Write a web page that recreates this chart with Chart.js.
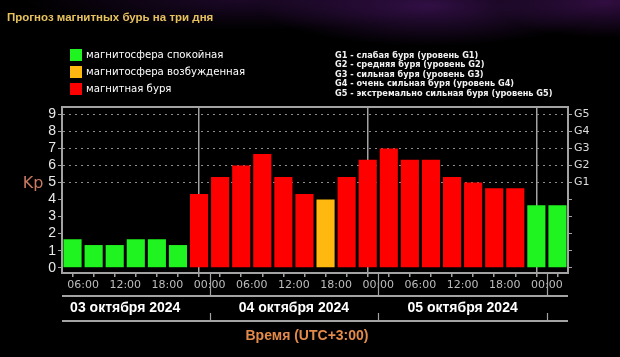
<!DOCTYPE html>
<html><head><meta charset="utf-8">
<script src="https://cdn.jsdelivr.net/npm/chart.js@4.4.1/dist/chart.umd.min.js"></script>
<style>
html,body{margin:0;padding:0;width:620px;height:357px;overflow:hidden;background:#000;}
#wrap{position:relative;width:620px;height:357px;background:
 radial-gradient(ellipse 170px 40px at 430px 6px, rgba(80,24,112,0.6), rgba(0,0,0,0) 100%),
 radial-gradient(ellipse 110px 36px at 605px 2px, rgba(90,24,120,0.55), rgba(0,0,0,0) 100%),
 radial-gradient(ellipse 220px 30px at 240px 0px, rgba(55,16,78,0.5), rgba(0,0,0,0) 100%),
 #000;}
#c{position:absolute;left:0;top:0;width:620px;height:357px;}
.t{position:absolute;white-space:nowrap;font-family:"Liberation Sans",Arial,sans-serif;z-index:2;}
#title{left:7px;top:11px;font-size:11.5px;font-weight:bold;color:#e6c25e;}
.lg{left:70px;font-family:"DejaVu Sans Condensed","DejaVu Sans",sans-serif;font-size:11.3px;color:#fff;line-height:12px;}
.lg i{display:inline-block;width:12px;height:12px;vertical-align:top;margin-right:4px;}
.gl{left:335px;font-family:"DejaVu Sans Condensed","DejaVu Sans",sans-serif;font-size:9.1px;font-weight:bold;color:#f2f2f2;line-height:10px;}
</style></head><body>
<div id="wrap">
<canvas id="c" width="620" height="357"></canvas>
<div class="t" id="title">Прогноз магнитных бурь на три дня</div>
<div id="legend"></div>
<div id="glegend"></div>
</div>
<script>
// ---- data ----
const boundaryLabels = ['', '06:00', '', '12:00', '', '18:00', '', '00:00',
                        '', '06:00', '', '12:00', '', '18:00', '', '00:00',
                        '', '06:00', '', '12:00', '', '18:00', '', '00:00', ''];
const kpValues = [1.67, 1.33, 1.33, 1.67, 1.67, 1.33, 4.33,
                  5.33, 6.0, 6.67, 5.33, 4.33, 4.0, 5.33, 6.33,
                  7.0, 6.33, 6.33, 5.33, 5.0, 4.67, 4.67, 3.67,
                  3.67];
const kpLevels = ['quiet','quiet','quiet','quiet','quiet','quiet','storm',
                  'storm','storm','storm','storm','storm','active','storm','storm',
                  'storm','storm','storm','storm','storm','storm','storm','quiet',
                  'quiet'];
const levelNames = ['quiet','active','storm'];
const levelColors = ['#20f420','#ffb80f','#ff0000'];
const legendLabels = ['магнитосфера спокойная','магнитосфера возбужденная','магнитная буря'];
const kpTickLabels = ['0','1','2','3','4','5','6','7','8','9'];
const gTickLabels = ['','','','','','G1','G2','G3','G4','G5'];
const gLegend = ['G1 - слабая буря (уровень G1)','G2 - средняя буря (уровень G2)','G3 - сильная буря (уровень G3)','G4 - очень сильная буря (уровень G4)','G5 - экстремально сильная буря (уровень G5)'];
const dayLabels = ['03 октября 2024','04 октября 2024','05 октября 2024'];
const dayBoundaries = [7, 15, 23];
const axisTitleX = 'Время (UTC+3:00)';
const axisTitleY = 'Kp';

// ---- html legends ----
const lg = document.getElementById('legend');
legendLabels.forEach((t,i)=>{
  const d=document.createElement('div'); d.className='t lg'; d.style.top=(49+i*17)+'px';
  d.innerHTML='<i style="background:'+levelColors[i]+'"></i>'; d.appendChild(document.createTextNode(t)); lg.appendChild(d);
});
const gl = document.getElementById('glegend');
gLegend.forEach((t,i)=>{
  const d=document.createElement('div'); d.className='t gl'; d.style.top=(50+i*9.4)+'px'; d.textContent=t; gl.appendChild(d);
});

const GRAY='#a3a3a3';
const colorOf = lv => levelColors[levelNames.indexOf(lv)];

const deco = {
  id:'deco',
  afterDraw(chart){
    const {ctx, chartArea:a, scales:{x}} = chart;
    ctx.save();
    ctx.strokeStyle=GRAY; ctx.lineWidth=2;
    ctx.beginPath(); ctx.moveTo(a.left-1,a.top); ctx.lineTo(a.right+1,a.top); ctx.stroke();
    ctx.beginPath(); ctx.moveTo(a.left,296); ctx.lineTo(a.right,296); ctx.stroke();
    ctx.beginPath(); ctx.moveTo(a.left,321); ctx.lineTo(a.right,321); ctx.stroke();
    ctx.lineWidth=1.2;
    dayBoundaries.forEach(b=>{
      const px=Math.round(x.getPixelForValue(b))+0.5;
      ctx.beginPath(); ctx.moveTo(px,a.bottom); ctx.lineTo(px,296); ctx.stroke();
      ctx.beginPath(); ctx.moveTo(px,313); ctx.lineTo(px,321); ctx.stroke();
    });
    ctx.fillStyle='#ffffff'; ctx.font='bold 14px "Liberation Sans", Arial, sans-serif';
    ctx.textAlign='center'; ctx.textBaseline='middle';
    dayLabels.forEach((t,i)=>{
      const px=x.getPixelForValue(dayBoundaries[i]-4);
      ctx.fillText(t,px,308);
    });
    ctx.fillStyle='#e38a4a'; ctx.font='bold 14px "Liberation Sans", Arial, sans-serif';
    ctx.fillText(axisTitleX,307,336);
    ctx.fillStyle='#c97a60'; ctx.font='16px "DejaVu Sans", sans-serif';
    ctx.fillText(axisTitleY,33,184);
    ctx.restore();
  }
};

new Chart(document.getElementById('c'),{
  type:'bar',
  data:{datasets:[{
    data:kpValues.map((v,i)=>({x:i+0.5,y:v})),
    backgroundColor:kpLevels.map(colorOf),
    borderWidth:0,
    barPercentage:0.86, categoryPercentage:1,
    yAxisID:'y'
  }]},
  options:{
    responsive:false, animation:false,
    layout:{padding:{top:107,left:0,right:0,bottom:0}},
    plugins:{legend:{display:false},tooltip:{enabled:false}},
    scales:{
      x:{type:'linear',min:0,max:24,offset:false,
        afterBuildTicks:s=>{s.ticks=boundaryLabels.map((_,i)=>({value:i}));},
        ticks:{autoSkip:false,maxRotation:0,minRotation:0,color:'#bdbdbd',padding:2,
          font:{family:'DejaVu Sans',size:11},callback:(v,i)=>boundaryLabels[i]},
        grid:{color:c=>(c.tick && dayBoundaries.includes(c.tick.value))?GRAY:'rgba(0,0,0,0)',
          lineWidth:1.5,tickColor:GRAY,tickLength:4,drawOnChartArea:true},
        border:{color:GRAY,width:2},
        afterFit:s=>{s.height=84;}
      },
      y:{position:'left',min:-0.31,max:9.43,
        afterBuildTicks:s=>{s.ticks=kpTickLabels.map((_,i)=>({value:i}));},
        ticks:{autoSkip:false,color:'#e8e8e8',padding:2,font:{family:'Liberation Sans',size:14},callback:(v,i)=>kpTickLabels[i]},
        grid:{color:c=>(c.index>=5)?'#8c8c8c':'rgba(0,0,0,0)',lineWidth:1,
          tickColor:GRAY,tickLength:4,tickBorderDash:[]},
        border:{color:GRAY,width:2,dash:[2,4]},
        afterFit:s=>{s.width=62;}
      },
      y2:{position:'right',min:-0.31,max:9.43,
        afterBuildTicks:s=>{s.ticks=gTickLabels.map((_,i)=>({value:i}));},
        ticks:{autoSkip:false,color:'#dcdcdc',padding:2,font:{family:'DejaVu Sans',size:11},callback:(v,i)=>gTickLabels[i]},
        grid:{drawOnChartArea:false,tickColor:GRAY,tickLength:4},
        border:{color:GRAY,width:2},
        afterFit:s=>{s.width=52;}
      }
    }
  },
  plugins:[deco]
});
</script>
</body></html>
